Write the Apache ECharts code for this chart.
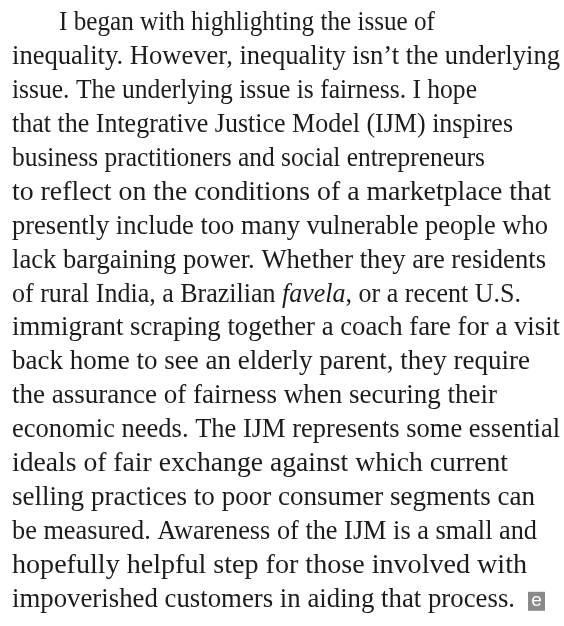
<!DOCTYPE html>
<html>
<head>
<meta charset="utf-8">
<script src="https://cdn.jsdelivr.net/npm/echarts@6/dist/echarts.min.js"></script>
<style>
html,body{margin:0;padding:0;background:#ffffff;}
#chart{width:564px;height:626px;}
</style>
</head>
<body>
<div id="chart"></div>
<script>
// Text lines of the paragraph (as broken in the reference)
const lines = [
  "I began with highlighting the issue of",
  "inequality. However, inequality isn\u2019t the underlying",
  "issue. The underlying issue is fairness. I hope",
  "that the Integrative Justice Model (IJM) inspires",
  "business practitioners and social entrepreneurs",
  "to reflect on the conditions of a marketplace that",
  "presently include too many vulnerable people who",
  "lack bargaining power. Whether they are residents",
  "of rural India, a Brazilian {i|favela}, or a recent U.S.",
  "immigrant scraping together a coach fare for a visit",
  "back home to see an elderly parent, they require",
  "the assurance of fairness when securing their",
  "economic needs. The IJM represents some essential",
  "ideals of fair exchange against which current",
  "selling practices to poor consumer segments can",
  "be measured. Awareness of the IJM is a small and",
  "hopefully helpful step for those involved with",
  "impoverished customers in aiding that process."
];
const endMark = "e";

// layout: right edge (px) of each typeset line in the reference
const lineRight = [435, 560, 477, 513, 485, 551, 548, 546, 521, 560, 530, 497, 560, 508, 535, 537, 527, 515];

const FONT_FAMILY = '"Liberation Serif", "DejaVu Serif", serif';
const F = 28;
const LEFT = 12;
const INDENT = 59;
const FIRST_BASE = 31.5;
const STEP = 33.9;

const cv = document.createElement('canvas').getContext('2d');
function measure(t) {
  let w = 0;
  const parts = t.split(/(\{i\|[^}]*\})/);
  parts.forEach(p => {
    const m = p.match(/^\{i\|([^}]*)\}$/);
    if (m) { cv.font = 'italic ' + F + 'px ' + FONT_FAMILY; w += cv.measureText(m[1]).width; }
    else { cv.font = F + 'px ' + FONT_FAMILY; w += cv.measureText(p).width; }
  });
  return w;
}

const graphics = [];
lines.forEach((t, i) => {
  const base = FIRST_BASE + i * STEP;
  const x = i === 0 ? INDENT : LEFT;
  const sx = (lineRight[i] - x) / measure(t);
  graphics.push({
    type: 'text',
    x: x,
    y: base - 0.305 * F,
    scaleX: sx,
    silent: true,
    style: {
      text: t,
      font: F + 'px ' + FONT_FAMILY,
      fill: '#1c1c1c',
      align: 'left',
      verticalAlign: 'middle',
      rich: {
        i: { font: 'italic ' + F + 'px ' + FONT_FAMILY, fill: '#1c1c1c' }
      }
    }
  });
});

// small grey "e" badge at the end
const lastBase = FIRST_BASE + (lines.length - 1) * STEP;
graphics.push({
  type: 'rect',
  silent: true,
  shape: { x: 528, y: lastBase - 16, width: 17, height: 19 },
  style: { fill: '#8a8a8a' }
});
graphics.push({
  type: 'text',
  silent: true,
  x: 536.5, y: lastBase - 7.5,
  style: {
    text: endMark,
    font: '19px "Liberation Sans", "Noto Sans", sans-serif',
    fill: '#ffffff',
    align: 'center',
    verticalAlign: 'middle'
  }
});

const chart = echarts.init(document.getElementById('chart'), null, { renderer: 'canvas' });
chart.setOption({
  backgroundColor: '#ffffff',
  animation: false,
  graphic: { elements: graphics }
});
</script>
</body>
</html>
